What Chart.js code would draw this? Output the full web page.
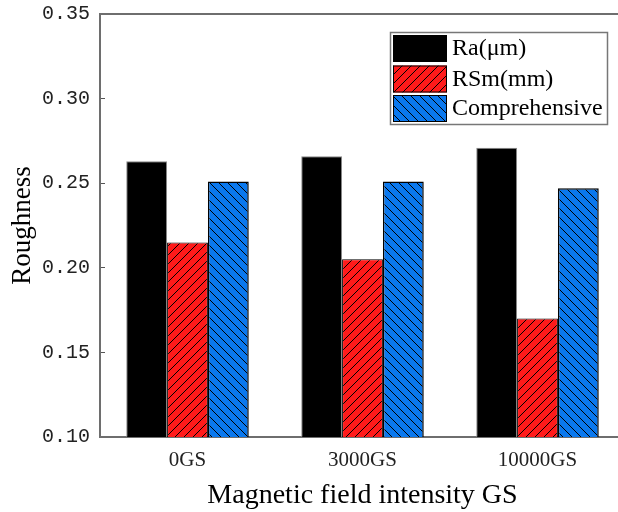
<!DOCTYPE html>
<html>
<head>
<meta charset="utf-8">
<script src="https://cdn.jsdelivr.net/npm/chart.js@4/dist/chart.umd.min.js"></script>
<style>
  html, body { margin: 0; padding: 0; background: #fff; overflow: hidden; }
  #wrap { width: 630px; height: 512px; position: relative; }
</style>
</head>
<body>
<div id="wrap"><canvas id="chart"></canvas></div>
<script>
// Roughness by magnetic field intensity
const categories = ['0GS', '3000GS', '10000GS'];
const seriesNames = ['Ra(\u03bcm)', 'RSm(mm)', 'Comprehensive'];
const raValues = [0.263, 0.266, 0.271];
const rsmValues = [0.215, 0.205, 0.170];
const compValues = [0.251, 0.251, 0.247];
const yTickValues = [0.10, 0.15, 0.20, 0.25, 0.30, 0.35];

const SERIF = '"Liberation Serif", "Times New Roman", serif';
const MONO = '"Liberation Mono", "Courier New", monospace';

// Diagonal hatch fill: dir = 1 gives "/", dir = -1 gives "\"
function hatch(color, dir) {
  const s = 9;
  const c = document.createElement('canvas');
  c.width = s; c.height = s;
  const g = c.getContext('2d');
  g.fillStyle = color;
  g.fillRect(0, 0, s, s);
  g.strokeStyle = '#000';
  g.lineWidth = 1;
  g.beginPath();
  if (dir > 0) {
    g.moveTo(-1, s + 1); g.lineTo(s + 1, -1);
    g.moveTo(-1, 1); g.lineTo(1, -1);
    g.moveTo(s - 1, s + 1); g.lineTo(s + 1, s - 1);
  } else {
    g.moveTo(-1, -1); g.lineTo(s + 1, s + 1);
    g.moveTo(-1, s - 1); g.lineTo(1, s + 1);
    g.moveTo(s - 1, -1); g.lineTo(s + 1, 1);
  }
  g.stroke();
  return g.createPattern(c, 'repeat');
}

const redHatch = hatch('#ff1a1a', 1);
const blueHatch = hatch('#0a78ee', -1);

// Boxed legend in the upper right of the plot
const legendBox = {
  id: 'legendBox',
  afterDraw(chart) {
    const ctx = chart.ctx;
    const x0 = 390.5, y0 = 32.5, w = 217, h = 92;
    ctx.save();
    ctx.fillStyle = '#fff';
    ctx.fillRect(x0, y0, w, h);
    ctx.strokeStyle = '#777';
    ctx.lineWidth = 1.5;
    ctx.strokeRect(x0, y0, w, h);
    const rows = [35, 65.5, 95];
    chart.data.datasets.forEach((ds, i) => {
      const sy = rows[i];
      ctx.fillStyle = ds.backgroundColor;
      ctx.fillRect(393, sy, 54, 27);
      if (i > 0) {
        ctx.strokeStyle = '#000';
        ctx.lineWidth = 1;
        ctx.strokeRect(393.5, sy + 0.5, 53, 26);
      }
      ctx.fillStyle = '#000';
      ctx.font = '24px ' + SERIF;
      ctx.textBaseline = 'middle';
      ctx.textAlign = 'left';
      ctx.fillText(ds.label, 452, sy + 14);
    });
    ctx.restore();
  }
};

new Chart(document.getElementById('chart'), {
  type: 'bar',
  data: {
    labels: categories,
    datasets: [
      { label: seriesNames[0], data: raValues, xAxisID: 'x', backgroundColor: '#000', borderColor: '#888', borderWidth: 1 },
      { label: seriesNames[1], data: rsmValues, xAxisID: 'x', backgroundColor: redHatch, borderColor: '#000', borderWidth: 1 },
      { label: seriesNames[2], data: compValues, xAxisID: 'x', backgroundColor: blueHatch, borderColor: '#000', borderWidth: 1.5 }
    ]
  },
  options: {
    responsive: true,
    maintainAspectRatio: false,
    animation: false,
    devicePixelRatio: 1,
    layout: { padding: { top: 14, right: 5, bottom: 0, left: 0 } },
    datasets: { bar: { categoryPercentage: 0.7, barPercentage: 1.0 } },
    plugins: { legend: { display: false }, tooltip: { enabled: false } },
    scales: {
      x: {
        position: 'bottom',
        z: 1,
        grid: { display: true, drawOnChartArea: false, drawTicks: true, tickLength: -5, offset: false, color: '#555', lineWidth: 1 },
        border: { display: true, color: '#6e6e6e', width: 2 },
        ticks: { color: '#222', padding: 16, font: { family: SERIF, size: 21 } },
        title: { display: true, text: 'Magnetic field intensity GS', color: '#000', font: { family: SERIF, size: 28 }, padding: { top: 0, bottom: 0 } },
        afterFit(s) { s.height = 75; s.paddingLeft = 0; s.paddingRight = 0; }
      },
      x2: {
        position: 'top',
        type: 'category',
        labels: categories,
        grid: { display: false, drawTicks: false },
        border: { display: true, color: '#6e6e6e', width: 2 },
        ticks: { display: false },
        afterFit(s) { s.height = 0; s.paddingLeft = 0; s.paddingRight = 0; }
      },
      y: {
        min: 0.10,
        max: 0.35,
        z: 1,
        afterBuildTicks(s) { s.ticks = yTickValues.map(v => ({ value: v })); },
        grid: { display: true, drawOnChartArea: false, drawTicks: true, tickLength: -5, color: '#555', lineWidth: 1 },
        border: { display: true, color: '#6e6e6e', width: 2 },
        ticks: { color: '#222', padding: 15, font: { family: MONO, size: 20 }, callback: v => Number(v).toFixed(2) },
        title: { display: true, text: 'Roughness', color: '#000', font: { family: SERIF, size: 27 }, padding: { top: 7, bottom: 0 } },
        afterFit(s) { s.width = 100; s.paddingTop = 0; s.paddingBottom = 0; }
      }
    }
  },
  plugins: [legendBox]
});
</script>
</body>
</html>
